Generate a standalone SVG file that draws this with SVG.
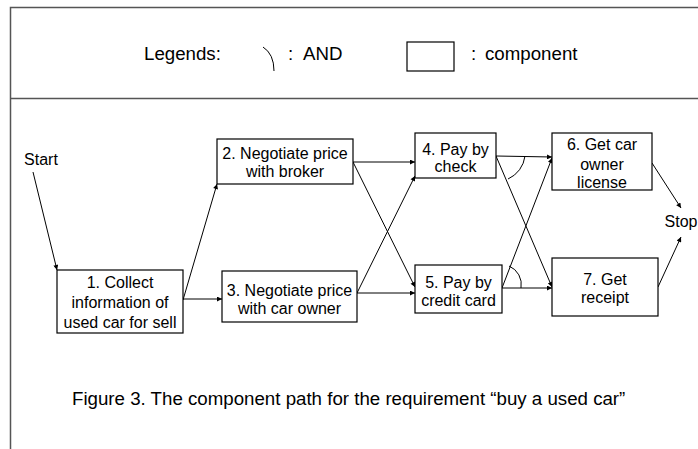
<svg xmlns="http://www.w3.org/2000/svg" width="698" height="449" viewBox="0 0 698 449">
  <style>
    .frame { stroke: #555; stroke-width: 1.5; fill: none; }
    .box { fill: #fff; stroke: #000; stroke-width: 1.2; }
    .lbl { font-family: "Liberation Sans", Arial, sans-serif; font-size: 16px; fill: #000; text-anchor: middle; }
    .big { font-family: "Liberation Sans", Arial, sans-serif; font-size: 18.7px; fill: #000; }
    .edge { stroke: #000; stroke-width: 1; fill: none; }
    .arrow { marker-end: url(#head); }
  </style>
  <defs>
    <marker id="head" viewBox="0 0 10 10" refX="10" refY="5" markerWidth="6" markerHeight="5" markerUnits="userSpaceOnUse" orient="auto">
      <path d="M0,0 L10,5 L0,10 z" fill="#000"/>
    </marker>
  </defs>
  <rect width="698" height="449" fill="#fff"/>

  <!-- outer frame and legend divider -->
  <g id="frame">
    <path class="frame" d="M10.5,449 V7.5 H698"/>
    <path class="frame" d="M10.5,98.5 H698"/>
  </g>

  <!-- legend -->
  <g id="legend">
    <text class="big" x="144" y="60">Legends:</text>
    <path class="edge" d="M263,47 Q274,54 274,71"/>
    <text class="big" x="288" y="60">:</text>
    <text class="big" x="303" y="60">AND</text>
    <rect class="box" x="407" y="42" width="47" height="29"/>
    <text class="big" x="471" y="60">:</text>
    <text class="big" x="485" y="60">component</text>
  </g>

  <!-- connectors -->
  <g id="connectors">
    <line class="edge arrow" x1="33" y1="172" x2="57" y2="270"/>
    <line class="edge arrow" x1="183" y1="300" x2="217" y2="184"/>
    <line class="edge arrow" x1="183" y1="299" x2="222" y2="299"/>
    <line class="edge arrow" x1="353" y1="162" x2="415" y2="162"/>
    <line class="edge arrow" x1="353" y1="162" x2="415" y2="287"/>
    <line class="edge arrow" x1="357" y1="293" x2="415" y2="176"/>
    <line class="edge arrow" x1="357" y1="293" x2="415" y2="293"/>
    <line class="edge arrow" x1="496" y1="156" x2="552" y2="157"/>
    <line class="edge arrow" x1="496" y1="156" x2="552" y2="287"/>
    <line class="edge arrow" x1="502" y1="288" x2="552" y2="158"/>
    <line class="edge arrow" x1="502" y1="288" x2="552" y2="288"/>
    <line class="edge arrow" x1="652" y1="163" x2="681" y2="208"/>
    <line class="edge arrow" x1="658" y1="287" x2="681" y2="237"/>
    <!-- AND arcs -->
    <path class="edge" d="M525,156 A29,29 0 0 1 508,179"/>
    <path class="edge" d="M521,288 A20,20 0 0 0 509,266"/>
  </g>

  <g id="start"><text class="lbl" x="41" y="165">Start</text></g>

  <g id="n1">
    <rect class="box" x="57" y="270" width="126" height="63"/>
    <text class="lbl" x="120" y="288">1. Collect</text>
    <text class="lbl" x="120" y="308">information of</text>
    <text class="lbl" x="120" y="328">used car for sell</text>
  </g>
  <g id="n2">
    <rect class="box" x="217" y="139" width="136" height="45"/>
    <text class="lbl" x="285" y="159">2. Negotiate price</text>
    <text class="lbl" x="285" y="177">with broker</text>
  </g>
  <g id="n3">
    <rect class="box" x="222" y="271" width="135" height="51"/>
    <text class="lbl" x="289.5" y="296">3. Negotiate price</text>
    <text class="lbl" x="289.5" y="314">with car owner</text>
  </g>
  <g id="n4">
    <rect class="box" x="415" y="133" width="81" height="45"/>
    <text class="lbl" x="455.5" y="155">4. Pay by</text>
    <text class="lbl" x="455.5" y="172">check</text>
  </g>
  <g id="n5">
    <rect class="box" x="415" y="265" width="87" height="48"/>
    <text class="lbl" x="458.5" y="288">5. Pay by</text>
    <text class="lbl" x="458.5" y="306">credit card</text>
  </g>
  <g id="n6">
    <rect class="box" x="552" y="133" width="100" height="57"/>
    <text class="lbl" x="602" y="150">6. Get car</text>
    <text class="lbl" x="602" y="170">owner</text>
    <text class="lbl" x="602" y="188">license</text>
  </g>
  <g id="n7">
    <rect class="box" x="552" y="258" width="106" height="58"/>
    <text class="lbl" x="605" y="285">7. Get</text>
    <text class="lbl" x="605" y="303">receipt</text>
  </g>
  <g id="stop"><text class="lbl" x="681" y="227">Stop</text></g>

  <text class="big" x="72" y="405">Figure 3. The component path for the requirement “buy a used car”</text>
</svg>
